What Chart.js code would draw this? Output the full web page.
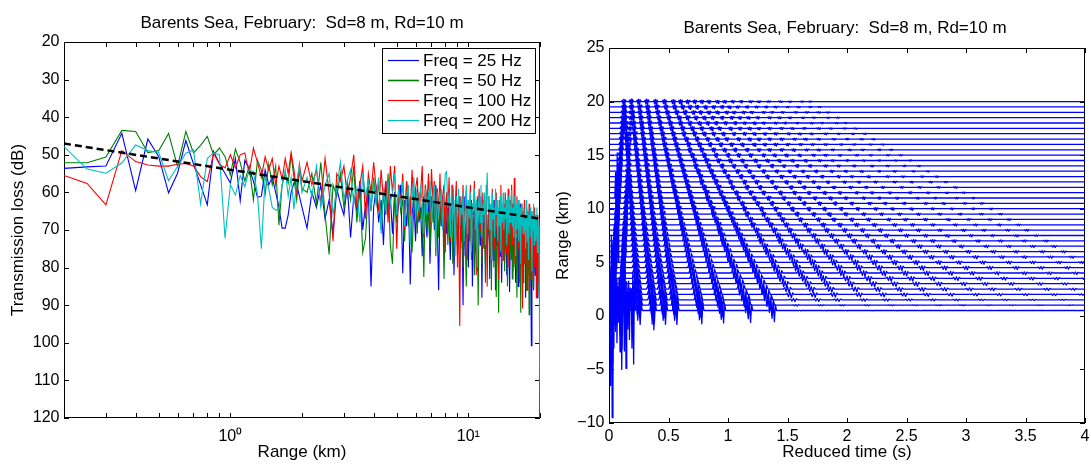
<!DOCTYPE html>
<html>
<head>
<meta charset="utf-8">
<title>Barents Sea, February</title>
<script src="https://cdn.jsdelivr.net/npm/chart.js@4.4.1/dist/chart.umd.min.js"></script>
<style>
  html, body { margin: 0; padding: 0; background: #fff; width: 1091px; height: 464px; overflow: hidden; }
  canvas { position: absolute; top: 0; }
  #tlChart { left: 0; width: 604px; height: 464px; }
  #arrivalChart { left: 545px; width: 600px; height: 464px; }
</style>
</head>
<body>
<canvas id="tlChart" width="604" height="464"></canvas>
<canvas id="arrivalChart" width="600" height="464"></canvas>
<script>
// ---- left panel: transmission loss vs range ----
const freqLabels = ['Freq = 25 Hz', 'Freq = 50 Hz', 'Freq = 100 Hz', 'Freq = 200 Hz'];
const freqColors = ['#0000ff', '#008000', '#ff0000', '#00bfbf'];

const nearRangeKm = [0.2, 0.25, 0.3, 0.35, 0.4, 0.45, 0.5, 0.55, 0.6, 0.65, 0.7, 0.75, 0.8, 0.85, 0.9, 0.95,
  1.0, 1.05, 1.1, 1.15, 1.2, 1.25, 1.3, 1.35, 1.4, 1.45, 1.5, 1.55, 1.6, 1.65, 1.7, 1.75, 1.8, 1.85, 1.9, 1.95, 2.0];
// beyond 2 km the curves are sampled every 100 m up to 20 km
const farRangeFirst = 21, farRangeLast = 200;   // in units of 0.1 km

const loss25 = [53.6, 53.2, 53.0, 44.3, 59.5, 45.8, 50.5, 60.1, 54.9, 46.2, 52.4, 58.0, 63.3, 49.1, 52.4, 55.0,
  57.5, 51.0, 62.2, 51.5, 53.7, 57.0, 61.3, 61.0, 54.0, 58.0, 56.0, 60.0, 64.0, 69.5, 69.5, 66.0, 60.0, 57.5, 58.0, 61.0, 64.0,
  69.5, 60, 64, 58, 67, 62, 71, 59, 63, 66,
  58, 72, 61, 65, 57, 70, 63, 60, 85, 64,
  59, 68, 62, 74, 57, 66, 61, 71, 60, 67,
  63, 58, 81.5, 62, 69, 60, 84.5, 66, 61, 73,
  59, 68, 64, 77, 61, 66, 72, 60, 79, 65,
  62, 70, 58, 67, 86, 63, 69, 61, 75, 66,
  71, 60, 68, 78, 64, 59, 82, 67, 62, 74,
  69, 63, 73, 66, 90, 61, 77, 68, 64, 80,
  67, 72, 62, 85, 69, 65, 76, 63, 81, 70,
  66, 74, 61, 88, 68, 72, 64, 79, 67, 75,
  70, 63, 83, 68, 73, 65, 78, 71, 62, 86,
  69, 74, 66, 80, 64, 77, 70, 84, 67, 72,
  65, 79, 71, 68, 82, 63, 75, 69, 86.5, 73,
  68, 77, 64, 81, 70, 74, 66, 84, 72, 78,
  67, 85, 71, 76, 63, 80, 73, 69, 83, 75,
  70, 79, 66, 88, 72, 77, 65, 82, 74, 71,
  78, 68, 84, 100.8, 73, 80, 69, 86, 75, 71,
  82, 72, 77, 67, 88, 74, 79, 70, 85, 76];

const loss50 = [52.1, 52.1, 50.6, 43.5, 43.8, 49.4, 48.9, 44.3, 53.1, 43.8, 49.5, 47.5, 45.1, 50.0, 48.2, 50.5,
  55.4, 48.5, 52.0, 57.0, 53.0, 62.0, 51.5, 54.0, 60.5, 52.5, 58.0, 53.0, 68.7, 58.0, 55.0, 57.5, 50.0, 56.0, 62.0, 54.0, 59.0,
  60, 55, 63, 52, 66, 76.5, 58, 61, 55, 64,
  57, 62, 53, 68, 59, 76, 72, 58, 65, 56,
  63, 57, 70, 60, 66, 55, 74, 79, 61, 68,
  58, 65, 62, 73, 57, 69, 61, 76, 64, 59,
  71, 60, 67, 63, 82.5, 58, 70, 65, 75, 61,
  68, 62, 77, 59, 72, 64, 69, 61, 83, 66,
  60, 74, 65, 70, 62, 79, 67, 73, 63, 77,
  68, 61, 75, 66, 80, 64, 71, 85, 67, 62,
  73, 66, 78, 63, 70, 82, 65, 74, 68, 90,
  64, 71, 67, 79, 62, 75, 69, 84, 66, 73,
  70, 64, 77, 68, 86, 63, 72, 80, 67, 74,
  87.8, 66, 71, 92, 68, 75, 64, 79, 70, 73,
  67, 81, 65, 74, 70, 85, 68, 77, 63, 72,
  78, 66, 83, 71, 74, 65, 80, 69, 76, 88,
  70, 74, 67, 82, 72, 92, 69, 78, 65, 84,
  73, 68, 79, 71, 86, 67, 76, 81, 70, 92.5,
  74, 69, 83, 72, 77, 66, 85, 73, 79, 70,
  76, 68, 81, 74, 71, 87, 73, 78, 69, 82.4];

const loss100 = [55.5, 57.6, 63.3, 48.9, 51.8, 52.7, 53.0, 53.0, 52.5, 52.3, 53.0, 55.8, 57.1, 49.6, 52.5, 53.5,
  50.0, 53.5, 50.0, 49.5, 55.0, 48.2, 52.0, 56.0, 50.5, 54.0, 51.0, 58.0, 53.0, 56.5, 51.0, 55.0, 49.5, 54.0, 60.0, 52.5, 57.0,
  52, 58, 54, 63, 51, 60, 73, 55, 57, 53,
  61, 56, 50, 64, 58, 53, 67, 55, 60, 52,
  59, 65, 54, 62, 57, 68, 53, 60, 53, 75,
  58, 63, 55, 70, 57, 61, 66, 54, 64, 59,
  56, 67, 60, 53, 72, 58, 63, 55, 69, 53.8,
  62, 57, 71, 59, 65, 55, 68, 61, 58, 76,
  60, 66, 56, 73, 62, 58, 70, 64, 57, 80,
  63, 95.5, 61, 67, 58, 72, 64, 60, 78, 62,
  68, 58, 74, 63, 66, 57, 71, 82, 61, 65,
  59, 70, 63, 77, 60, 67, 64, 73, 58, 85,
  66, 61, 72, 64, 79, 59, 69, 62, 75, 67,
  60, 71, 65, 83, 62, 68, 58, 74, 64, 78,
  63, 69, 60, 76, 66, 72, 59, 80, 65, 62,
  70, 58, 74, 63, 67, 56.2, 79, 64, 71, 61,
  68, 75, 62, 84, 66, 71, 63, 77, 90.9, 65,
  72, 62, 79, 67, 70, 64, 86, 68, 74, 63,
  76, 66, 71, 83, 65, 78, 69, 73, 64, 80,
  70, 67, 88, 72, 66, 75, 69, 84, 71, 87.3];

const loss200 = [47.8, 53.8, 54.9, 52.2, 47.4, 48.9, 49.4, 56.9, 53.1, 49.6, 48.7, 63.1, 51.0, 49.5, 50.0, 72.2,
  58.0, 60.7, 55.5, 58.5, 54.0, 54.5, 60.5, 75.0, 56.0, 59.0, 64.0, 64.7, 64.5, 58.0, 54.0, 61.0, 56.0, 64.5, 57.0, 53.0, 60.0,
  56, 61, 53, 64, 58, 55, 66, 59, 52, 62,
  57, 54, 63, 59, 68, 55, 61, 57, 64, 58,
  62, 56, 71, 59, 65, 57, 63, 60, 55, 66,
  59, 64, 57, 69, 61, 58, 74, 62, 56, 67,
  60, 65, 58, 63, 71, 59, 66, 61, 57, 68,
  62, 58, 75, 60, 66, 63, 59, 70, 61, 55,
  54.5, 64, 60, 72, 58, 67, 62, 77, 61, 65,
  59, 69, 63, 66, 60, 73, 64, 58, 71, 62,
  67, 60, 76, 63, 65, 59, 70, 62, 80, 64,
  61, 68, 58, 72, 63, 66, 60, 74, 62, 54.7,
  65, 61, 70, 63, 78, 60, 67, 64, 72, 59,
  66, 62, 73, 64, 69, 61, 76, 63, 68, 60,
  70, 64, 67, 62, 74, 65, 61, 71, 63, 68,
  62, 59.4, 69, 64, 72, 61, 66, 77, 63, 70,
  65, 62, 73, 67, 64, 79, 63, 69, 66, 71,
  64, 70, 67, 75, 62, 68, 73, 65, 78, 66,
  69, 64, 72, 67, 81, 65, 70, 63, 74, 68,
  66, 73, 68, 64, 76, 69, 71, 67, 94, 120];

const trendRangeKm = [0.2, 20];
const trendLoss = [47, 67];

const lossTicks = [20, 30, 40, 50, 60, 70, 80, 90, 100, 110, 120];
const rangeMajorTicks = [1, 10];
const rangeMinorTicks = [0.3, 0.4, 0.5, 0.6, 0.7, 0.8, 0.9, 2, 3, 4, 5, 6, 7, 8, 9, 20];

// ---- right panel: stacked arrivals vs reduced time ----
const traceRangeKm = [20, 19.5, 19, 18.5, 18, 17.5, 17, 16.5, 16, 15.5, 15, 14.5, 14, 13.5, 13, 12.5, 12, 11.5, 11, 10.5,
  10, 9.5, 9, 8.5, 8, 7.5, 7, 6.5, 6, 5.5, 5, 4.5, 4, 3.5, 3, 2.5, 2, 1.5, 1, 0.5];
const timeTicks = [0, 0.5, 1, 1.5, 2, 2.5, 3, 3.5, 4];
const traceTicks = [-10, -5, 0, 5, 10, 15, 20, 25];

// two steep early branches (the tall spikes near t = 0)
const legEarly = [0.125, 0.122, 0.120, 0.117, 0.114, 0.112, 0.109, 0.106, 0.103, 0.101, 0.098, 0.095, 0.093, 0.090, 0.087, 0.085,
  0.082, 0.079, 0.076, 0.074, 0.071, 0.068, 0.066, 0.063, 0.060, 0.058, 0.055, 0.052, 0.049, 0.047, 0.044, 0.041, 0.039, 0.036,
  0.033, 0.031, 0.028, 0.025, 0.022, 0.020];
const legLate = [0.186, 0.184, 0.182, 0.179, 0.177, 0.175, 0.173, 0.171, 0.168, 0.166, 0.164, 0.162, 0.160, 0.157, 0.155, 0.153,
  0.151, 0.149, 0.146, 0.144, 0.142, 0.140, 0.138, 0.135, 0.133, 0.131, 0.129, 0.127, 0.124, 0.122, 0.120, 0.118, 0.116, 0.113,
  0.111, 0.109, 0.107, 0.105, 0.102, 0.100];
const legAmp = [0.3, 0.32, 0.34, 0.36, 0.38, 0.4, 0.42, 0.45, 0.48, 0.5, 0.55, 0.6, 0.65, 0.7, 0.75, 0.8, 0.85, 0.9, 0.95, 1.0,
  1.1, 1.2, 1.3, 1.4, 1.5, 1.7, 1.9, 2.1, 2.3, 2.5, 2.7, 3.0, 3.3, 3.6, 4.0, 4.5, 5.0, 6.0, 7.5, 10];

// arrival times (s) of each multipath branch, one value per trace from 20 km down to 0.5 km
const path1 = [0.125, 0.128, 0.132, 0.135, 0.138, 0.141, 0.145, 0.148, 0.151, 0.154, 0.158, 0.161, 0.164, 0.167, 0.171, 0.174,
  0.177, 0.180, 0.184, 0.187, 0.190, 0.193, 0.197, 0.200, 0.203, 0.206, 0.210, 0.213, 0.216, 0.219, 0.223, 0.226, 0.229, 0.232,
  0.236, 0.239, 0.242, 0.245, 0.249, 0.252];
const path2 = [0.186, 0.191, 0.196, 0.200, 0.205, 0.210, 0.215, 0.219, 0.224, 0.229, 0.234, 0.238, 0.243, 0.248, 0.253, 0.257,
  0.262, 0.267, 0.272, 0.276, 0.281, 0.286, 0.291, 0.295, 0.300, 0.305, 0.310, 0.314, 0.319, 0.324, 0.329, 0.333, 0.338, 0.343,
  0.348, 0.352, 0.357, 0.362, 0.367, 0.371];
const path3 = [0.250, 0.256, 0.261, 0.267, 0.272, 0.278, 0.283, 0.289, 0.294, 0.300, 0.305, 0.311, 0.316, 0.322, 0.327, 0.333,
  0.338, 0.344, 0.349, 0.355, 0.360, 0.366, 0.371, 0.377, 0.382, 0.388, 0.393, 0.399, 0.404, 0.410, 0.415, 0.421, 0.426, 0.432,
  0.437, 0.443, 0.448, 0.454, 0.459, 0.465];
const path4 = [0.317, 0.323, 0.330, 0.336, 0.342, 0.348, 0.355, 0.361, 0.367, 0.373, 0.380, 0.386, 0.392, 0.398, 0.405, 0.411,
  0.417, 0.423, 0.430, 0.436, 0.442, 0.448, 0.455, 0.461, 0.467, 0.473, 0.480, 0.486, 0.492, 0.498, 0.505, 0.511, 0.517, 0.523,
  0.530, 0.536, 0.542, 0.548, 0.555, 0.561];
const path5 = [0.390, 0.400, 0.410, 0.419, 0.429, 0.439, 0.449, 0.458, 0.468, 0.478, 0.488, 0.497, 0.507, 0.517, 0.527, 0.536,
  0.546, 0.556, 0.566, 0.575, 0.585, 0.595, 0.605, 0.614, 0.624, 0.634, 0.644, 0.653, 0.663, 0.673, 0.683, 0.692, 0.702, 0.712,
  0.722, 0.731, 0.741, 0.751, 0.761, 0.770];
const path6 = [0.465, 0.478, 0.490, 0.503, 0.515, 0.528, 0.540, 0.553, 0.565, 0.578, 0.590, 0.603, 0.615, 0.628, 0.640, 0.653,
  0.665, 0.678, 0.690, 0.703, 0.715, 0.728, 0.740, 0.753, 0.765, 0.778, 0.790, 0.803, 0.815, 0.828, 0.840, 0.853, 0.865, 0.878,
  0.890, 0.903, 0.915, 0.928, 0.940, 0.953];
const path7 = [0.54, 0.55, 0.57, 0.59, 0.60, 0.62, 0.63, 0.65, 0.67, 0.68, 0.70, 0.72, 0.73, 0.75, 0.77, 0.78, 0.80, 0.82, 0.83, 0.85,
  0.87, 0.88, 0.90, 0.92, 0.93, 0.95, 0.96, 0.98, 1.00, 1.01, 1.03, 1.05, 1.06, 1.08, 1.10, 1.11, 1.13, 1.15, 1.16, 1.18];
const path8 = [0.60, 0.62, 0.64, 0.66, 0.68, 0.70, 0.72, 0.74, 0.76, 0.78, 0.80, 0.82, 0.84, 0.86, 0.88, 0.90, 0.92, 0.94, 0.96, 0.98,
  1.00, 1.02, 1.04, 1.06, 1.08, 1.10, 1.12, 1.14, 1.16, 1.18, 1.20, 1.22, 1.24, 1.26, 1.28, 1.30, 1.32, 1.34, 1.36, 1.38];
const path9 = [0.66, 0.68, 0.71, 0.73, 0.76, 0.78, 0.80, 0.83, 0.85, 0.88, 0.90, 0.92, 0.95, 0.97, 1.00, 1.02, 1.04, 1.07, 1.09, 1.12,
  1.14, 1.16, 1.19, 1.21, 1.24, 1.26, 1.28, 1.31, 1.33, 1.36, 1.38, 1.40, 1.43, 1.45, 1.48, 1.50, 1.52, 1.55, 1.57, 1.60];
const path10 = [0.72, 0.74, 0.77, 0.80, 0.83, 0.86, 0.88, 0.91, 0.94, 0.97, 1.00, 1.02, 1.05, 1.08, 1.11, 1.14, 1.16, 1.19, 1.22, 1.25,
  1.28, 1.30, 1.33, 1.36, 1.39, 1.42, 1.44, 1.47, 1.50, 1.53, 1.56, 1.58, 1.61, 1.64, 1.67, 1.70, 1.72, 1.75, 1.78, 1.81];
const path11 = [0.78, 0.81, 0.84, 0.87, 0.90, 0.93, 0.96, 0.99, 1.03, 1.06, 1.09, 1.12, 1.15, 1.18, 1.21, 1.24, 1.27, 1.30, 1.34, 1.37,
  1.40, 1.43, 1.46, 1.49, 1.52, 1.55, 1.58, 1.61, 1.65, 1.68, 1.71, 1.74, 1.77, 1.80, 1.83, 1.86, 1.89, 1.92, 1.96, 1.99];
const path12 = [0.84, 0.88, 0.91, 0.95, 0.98, 1.02, 1.05, 1.09, 1.12, 1.16, 1.19, 1.23, 1.26, 1.30, 1.33, 1.37, 1.40, 1.44, 1.47, 1.51,
  1.54, 1.58, 1.61, 1.65, 1.68, 1.72, 1.75, 1.79, 1.82, 1.86, 1.89, 1.93, 1.96, 2.00, 2.03, 2.07, 2.10, 2.14, 2.17, 2.21];
const path13 = [0.91, 0.95, 0.99, 1.03, 1.06, 1.10, 1.14, 1.18, 1.22, 1.26, 1.30, 1.33, 1.37, 1.41, 1.45, 1.49, 1.53, 1.56, 1.60, 1.64,
  1.68, 1.72, 1.76, 1.80, 1.83, 1.87, 1.91, 1.95, 1.99, 2.03, 2.07, 2.10, 2.14, 2.18, 2.22, 2.26, 2.30, 2.33, 2.37, 2.41];
const path14 = [0.97, 1.01, 1.05, 1.10, 1.14, 1.18, 1.22, 1.26, 1.31, 1.35, 1.39, 1.43, 1.47, 1.52, 1.56, 1.60, 1.64, 1.68, 1.73, 1.77,
  1.81, 1.85, 1.89, 1.94, 1.98, 2.02, 2.06, 2.10, 2.15, 2.19, 2.23, 2.27, 2.31, 2.36, 2.40, 2.44, 2.48, 2.52, 2.57, 2.61];
const path15 = [1.04, 1.08, 1.13, 1.17, 1.22, 1.26, 1.31, 1.35, 1.40, 1.45, 1.49, 1.54, 1.58, 1.63, 1.67, 1.72, 1.76, 1.81, 1.86, 1.90,
  1.95, 1.99, 2.04, 2.08, 2.13, 2.17, 2.22, 2.26, 2.31, 2.36, 2.40, 2.45, 2.49, 2.54, 2.58, 2.63, 2.67, 2.72, 2.77, 2.81];
const path16 = [1.11, 1.16, 1.20, 1.25, 1.30, 1.35, 1.40, 1.45, 1.50, 1.55, 1.60, 1.65, 1.69, 1.74, 1.79, 1.84, 1.89, 1.94, 1.99, 2.04,
  2.09, 2.14, 2.18, 2.23, 2.28, 2.33, 2.38, 2.43, 2.48, 2.53, 2.58, 2.63, 2.67, 2.72, 2.77, 2.82, 2.87, 2.92, 2.97, 3.02];
const path17 = [1.19, 1.24, 1.30, 1.35, 1.40, 1.45, 1.51, 1.56, 1.61, 1.66, 1.72, 1.77, 1.82, 1.87, 1.93, 1.98, 2.03, 2.08, 2.14, 2.19,
  2.24, 2.29, 2.35, 2.40, 2.45, 2.50, 2.56, 2.61, 2.66, 2.71, 2.77, 2.82, 2.87, 2.92, 2.98, 3.03, 3.08, 3.13, 3.19, 3.24];
const path18 = [1.26, 1.32, 1.37, 1.43, 1.48, 1.54, 1.60, 1.65, 1.71, 1.76, 1.82, 1.88, 1.93, 1.99, 2.04, 2.10, 2.16, 2.21, 2.27, 2.32,
  2.38, 2.44, 2.49, 2.55, 2.60, 2.66, 2.72, 2.77, 2.83, 2.88, 2.94, 3.00, 3.05, 3.11, 3.16, 3.22, 3.28, 3.33, 3.39, 3.44];
const path19 = [1.34, 1.40, 1.46, 1.52, 1.58, 1.64, 1.70, 1.76, 1.82, 1.88, 1.94, 2.00, 2.06, 2.12, 2.18, 2.24, 2.30, 2.36, 2.42, 2.48,
  2.54, 2.60, 2.66, 2.72, 2.78, 2.84, 2.90, 2.96, 3.02, 3.08, 3.14, 3.20, 3.26, 3.32, 3.38, 3.44, 3.50, 3.56, 3.62, 3.68];
const path20 = [1.44, 1.50, 1.57, 1.63, 1.70, 1.76, 1.82, 1.89, 1.95, 2.02, 2.08, 2.14, 2.21, 2.27, 2.34, 2.40, 2.46, 2.53, 2.59, 2.66,
  2.72, 2.78, 2.85, 2.91, 2.98, 3.04, 3.10, 3.17, 3.23, 3.30, 3.36, 3.42, 3.49, 3.55, 3.62, 3.68, 3.74, 3.81, 3.87, 3.94];
const path21 = [1.52, 1.59, 1.66, 1.72, 1.79, 1.86, 1.93, 2.00, 2.06, 2.13, 2.20, 2.27, 2.34, 2.40, 2.47, 2.54, 2.61, 2.68, 2.74, 2.81,
  2.88, 2.95, 3.02, 3.08, 3.15, 3.22, 3.29, 3.36, 3.42, 3.49, 3.56, 3.63, 3.70, 3.76, 3.83, 3.90, 3.97];
const path22 = [1.62, 1.69, 1.76, 1.84, 1.91, 1.98, 2.05, 2.12, 2.20, 2.27, 2.34, 2.41, 2.48, 2.56, 2.63, 2.70, 2.77, 2.84, 2.92, 2.99,
  3.06, 3.13, 3.20, 3.28, 3.35, 3.42, 3.49, 3.56, 3.64, 3.71, 3.78, 3.85, 3.92, 4.00];
const path23 = [1.69, 1.77, 1.84, 1.92, 1.99, 2.07, 2.15, 2.22, 2.30, 2.37, 2.45, 2.53, 2.60, 2.68, 2.75, 2.83, 2.91, 2.98, 3.06, 3.13,
  3.21, 3.29, 3.36, 3.44, 3.51, 3.59, 3.67, 3.74, 3.82, 3.89, 3.97];

// relative pulse size for each branch
const pathGain = [1, 1, 1, 1, 0.95, 0.9, 0.85, 0.8, 0.75, 0.7, 0.65, 0.6, 0.55, 0.5, 0.46, 0.42, 0.36, 0.33, 0.3, 0.27, 0.24, 0.22, 0.2];
// pulse size (km) on each trace, for the first eight branches and for the later ones
const traceAmpEarly = [0.32, 0.32, 0.33, 0.33, 0.34, 0.34, 0.35, 0.35, 0.36, 0.36, 0.37, 0.38, 0.39, 0.4, 0.41, 0.42, 0.43, 0.44, 0.45, 0.46,
  0.47, 0.48, 0.5, 0.52, 0.54, 0.56, 0.58, 0.6, 0.62, 0.65, 0.68, 0.72, 0.76, 0.8, 0.85, 0.9, 1.0, 1.1, 1.2, 1.3];
const traceAmpLate = [0.3, 0.3, 0.3, 0.3, 0.3, 0.3, 0.31, 0.31, 0.32, 0.32, 0.33, 0.33, 0.34, 0.34, 0.35, 0.35, 0.36, 0.37, 0.38, 0.39,
  0.4, 0.41, 0.42, 0.44, 0.46, 0.48, 0.5, 0.52, 0.54, 0.56, 0.58, 0.6, 0.58, 0.54, 0.5, 0.44, 0.38, 0.22, 0.1, 0.05];
// wiggle length on each trace (relative)
const traceWidth = [1, 1, 1, 1, 1, 1, 1, 1, 1, 1, 1, 1, 1, 1, 1, 1, 1, 1, 1, 1,
  1, 1.1, 1.1, 1.2, 1.2, 1.3, 1.3, 1.4, 1.4, 1.5, 1.5, 1.6, 1.6, 1.7, 1.7, 1.8, 1.8, 1.8, 1.6, 1.4];
// isolated large spikes: [time s, trace range km, size km]
const bigSpikes = [[0.069, 11, 6.0], [0.136, 0.5, 5.4], [0.2, 0.5, 5.0], [0.06, 1, 3.5], [0.165, 1, 3.2],
  [0.085, 1.5, 3.0], [0.045, 2, 2.8], [0.37, 0.5, 1.8]];
// one short wiggle: [time offset s, relative height]
const pulseShape = [[-0.02, 0], [-0.013, 0.4], [-0.007, -0.7], [0, 0.7], [0.007, -1], [0.013, 0.5], [0.02, 0]];

const timeMin = 0, timeMax = 4;
const traceAxisMin = -10, traceAxisMax = 25;

// ---------------------------------------------------------------
const fontFamily = "'Liberation Sans', Arial, Helvetica, sans-serif";
Chart.defaults.font.family = fontFamily;
Chart.defaults.color = '#000';
const titleText = 'Barents Sea, February:  Sd=8 m, Rd=10 m';

function fixWidth(w) { return function (scale) { scale.width = w; }; }
function fixHeight(h) { return function (scale) { scale.height = h; }; }
function useTicks(values) { return function (scale) { scale.ticks = values.map(function (v) { return { value: v }; }); }; }

// MATLAB-like box with tick marks pointing inwards
const boxAxesPlugin = {
  id: 'boxAxes',
  beforeDatasetsDraw(chart) {
    const ctx = chart.ctx, a = chart.chartArea;
    const xs = chart.scales.x, ys = chart.scales.y;
    const len = 5;
    ctx.save();
    ctx.strokeStyle = '#000';
    ctx.lineWidth = 1;
    ctx.beginPath();
    xs.ticks.forEach(function (t) {
      const px = Math.round(xs.getPixelForValue(t.value)) + 0.5;
      ctx.moveTo(px, a.bottom); ctx.lineTo(px, a.bottom - len);
      ctx.moveTo(px, a.top); ctx.lineTo(px, a.top + len);
    });
    ys.ticks.forEach(function (t) {
      const py = Math.round(ys.getPixelForValue(t.value)) + 0.5;
      ctx.moveTo(a.left, py); ctx.lineTo(a.left + len, py);
      ctx.moveTo(a.right, py); ctx.lineTo(a.right - len, py);
    });
    ctx.stroke();
    ctx.strokeRect(a.left + 0.5, a.top + 0.5, a.right - a.left - 1, a.bottom - a.top - 1);
    ctx.restore();
  }
};

// legend box in the upper right corner of the left panel
const legendBoxPlugin = {
  id: 'legendBox',
  afterDatasetsDraw(chart) {
    const ctx = chart.ctx, a = chart.chartArea;
    const w = 153, h = 85;
    const x0 = Math.round(a.right) - 5 - w, y0 = Math.round(a.top) + 6;
    ctx.save();
    ctx.fillStyle = '#fff';
    ctx.fillRect(x0, y0, w, h);
    ctx.strokeStyle = '#000';
    ctx.lineWidth = 1;
    ctx.strokeRect(x0 + 0.5, y0 + 0.5, w, h);
    ctx.font = '17px ' + fontFamily;
    ctx.textBaseline = 'middle';
    ctx.textAlign = 'left';
    chart.data.datasets.slice(0, 4).forEach(function (ds, i) {
      const y = y0 + 12.5 + 20 * i;
      ctx.strokeStyle = ds.borderColor;
      ctx.lineWidth = i === 1 ? 1.6 : 1.2;
      ctx.beginPath();
      ctx.moveTo(x0 + 6, y); ctx.lineTo(x0 + 37, y);
      ctx.stroke();
      ctx.fillStyle = '#000';
      ctx.fillText(ds.label, x0 + 41, y + 0.5);
    });
    ctx.restore();
  }
};

// ---- left chart ----
const rangeKm = nearRangeKm.slice();
for (let i = farRangeFirst; i <= farRangeLast; i++) rangeKm.push(i / 10);
const lossSeries = [loss25, loss50, loss100, loss200];

const tlDatasets = lossSeries.map(function (vals, i) {
  return {
    label: freqLabels[i],
    data: rangeKm.map(function (r, j) { return { x: r, y: vals[j] }; }),
    borderColor: freqColors[i],
    borderWidth: 1.1,
    pointRadius: 0,
    showLine: true,
    order: 5 - i
  };
});
tlDatasets.push({
  label: 'trend',
  data: trendRangeKm.map(function (r, j) { return { x: r, y: trendLoss[j] }; }),
  borderColor: '#000',
  borderWidth: 2.5,
  borderDash: [7, 4],
  pointRadius: 0,
  showLine: true,
  order: 0
});

const rangeTickValues = rangeMinorTicks.concat(rangeMajorTicks).sort(function (p, q) { return p - q; });

new Chart(document.getElementById('tlChart'), {
  type: 'scatter',
  data: { datasets: tlDatasets },
  options: {
    responsive: false,
    animation: false,
    events: [],
    layout: { padding: 0 },
    plugins: {
      legend: { display: false },
      tooltip: { enabled: false },
      title: {
        display: true, text: titleText, color: '#000',
        font: { size: 17, weight: 'normal' },
        padding: { top: 13, bottom: 8.6 }
      }
    },
    scales: {
      x: {
        type: 'logarithmic', position: 'bottom', min: 0.2, max: 20,
        afterBuildTicks: useTicks(rangeTickValues),
        afterFit: fixHeight(46),
        grid: { display: false, drawTicks: false },
        border: { display: false },
        ticks: {
          autoSkip: false, maxRotation: 0, padding: 8.5, font: { size: 16 },
          callback: function (v) { return v === 1 ? '10\u2070' : (v === 10 ? '10\u00B9' : ''); }
        },
        title: { display: true, text: 'Range (km)', font: { size: 17 }, padding: { top: 0, bottom: 1.8 } }
      },
      y: {
        position: 'left', min: 20, max: 120, reverse: true,
        afterBuildTicks: useTicks(lossTicks),
        afterFit: fixWidth(64),
        grid: { display: false, drawTicks: false },
        border: { display: false },
        ticks: { padding: 4.5, font: { size: 16 } },
        title: { display: true, text: 'Transmission loss (dB)', font: { size: 17 }, padding: { top: 8, bottom: 0 } }
      },
      yEdge: {
        position: 'right', min: 20, max: 120, reverse: true,
        afterFit: fixWidth(64),
        grid: { display: false, drawTicks: false },
        border: { display: false },
        ticks: { display: false }
      }
    }
  },
  plugins: [boxAxesPlugin, legendBoxPlugin]
});

// ---- right chart: one dataset per trace ----
const arrivalPaths = [path1, path2, path3, path4, path5, path6, path7, path8, path9, path10, path11, path12,
  path13, path14, path15, path16, path17, path18, path19, path20, path21, path22, path23];

const traceDatasets = traceRangeKm.map(function (r, k) {
  const pulses = [
    { t: legEarly[k], a: legAmp[k], w: 1 },
    { t: legLate[k], a: legAmp[k] * 0.55, w: 1 }
  ];
  arrivalPaths.forEach(function (p, n) {
    if (p[k] === undefined || p[k] > timeMax) return;
    const base = n < 8 ? traceAmpEarly[k] : traceAmpLate[k];
    pulses.push({ t: p[k], a: base * pathGain[n], w: traceWidth[k] });
  });
  bigSpikes.forEach(function (s) {
    if (s[1] === r) pulses.push({ t: s[0], a: s[2], w: 1 });
  });
  pulses.sort(function (p, q) { return p.t - q.t; });
  const pts = [{ x: timeMin, y: r }];
  pulses.forEach(function (p) {
    pulseShape.forEach(function (s) { pts.push({ x: p.t + s[0] * p.w, y: r + s[1] * p.a }); });
  });
  pts.push({ x: timeMax, y: r });
  return {
    label: r + ' km',
    data: pts,
    borderColor: '#0000ff',
    borderWidth: 1.3,
    borderJoinStyle: 'round',
    pointRadius: 0,
    showLine: true
  };
});

new Chart(document.getElementById('arrivalChart'), {
  type: 'scatter',
  data: { datasets: traceDatasets },
  options: {
    responsive: false,
    animation: false,
    events: [],
    layout: { padding: 0 },
    plugins: {
      legend: { display: false },
      tooltip: { enabled: false },
      title: {
        display: true, text: titleText, color: '#000',
        font: { size: 17, weight: 'normal' },
        padding: { top: 18, bottom: 9.6 }
      }
    },
    scales: {
      x: {
        type: 'linear', position: 'bottom', min: timeMin, max: timeMax,
        afterBuildTicks: useTicks(timeTicks),
        afterFit: fixHeight(41),
        grid: { display: false, drawTicks: false },
        border: { display: false },
        ticks: {
          autoSkip: false, maxRotation: 0, padding: 4.4, font: { size: 16 },
          callback: function (v) { return String(v); }
        },
        title: { display: true, text: 'Reduced time (s)', font: { size: 17 }, padding: { top: 0, bottom: 1.8 } }
      },
      y: {
        position: 'left', min: traceAxisMin, max: traceAxisMax,
        afterBuildTicks: useTicks(traceTicks),
        afterFit: fixWidth(64),
        grid: { display: false, drawTicks: false },
        border: { display: false },
        ticks: {
          padding: 4.5, font: { size: 16 },
          callback: function (v) { return String(v).replace('-', '\u2212'); }
        },
        title: { display: true, text: 'Range (km)', font: { size: 17 }, padding: { top: 8, bottom: 0 } }
      },
      yEdge: {
        position: 'right', min: traceAxisMin, max: traceAxisMax,
        afterFit: fixWidth(60),
        grid: { display: false, drawTicks: false },
        border: { display: false },
        ticks: { display: false }
      }
    }
  },
  plugins: [boxAxesPlugin]
});
</script>
</body>
</html>
